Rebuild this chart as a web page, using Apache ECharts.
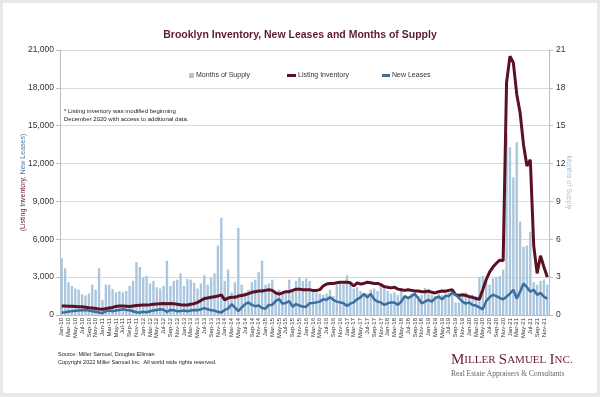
<!DOCTYPE html>
<html>
<head>
<meta charset="utf-8">
<script src="https://cdn.jsdelivr.net/npm/echarts@6/dist/echarts.min.js"></script>
<style>
  html, body { margin: 0; padding: 0; background: #e9e9e9; }
  #chart { position: absolute; left: 3px; top: 3px; width: 594px; height: 390px; background: #fff; }
</style>
</head>
<body>
<div id="chart"></div>
<script>
// month labels Jan-10 ... Dec-21
const years = ['10', '11', '12', '13', '14', '15', '16', '17', '18', '19', '20', '21']
const monthNames = ['Jan', 'Feb', 'Mar', 'Apr', 'May', 'Jun', 'Jul', 'Aug', 'Sep', 'Oct', 'Nov', 'Dec']
const categories = []
years.forEach(y => monthNames.forEach(m => categories.push(m + '-' + y)))

const leftTicks = [0, 3000, 6000, 9000, 12000, 15000, 18000, 21000]
const rightTicks = [0, 3, 6, 9, 12, 15, 18, 21]

// months of supply (right axis)
const monthsOfSupply = [
  4.5, 3.7, 2.6, 2.3, 2.1, 2.0, 1.65, 1.55, 1.7, 2.4, 2.0, 3.7,
  1.2, 2.4, 2.4, 2.05, 1.8, 1.9, 1.8, 1.9, 2.3, 2.7, 4.2, 3.8,
  3.0, 3.1, 2.5, 2.7, 2.2, 2.1, 2.3, 4.3, 2.3, 2.7, 2.8, 3.3,
  2.3, 2.85, 2.8, 2.55, 2.1, 2.5, 3.15, 2.4, 2.95, 3.3, 5.5, 7.7,
  2.7, 3.6, 1.8, 2.6, 6.9, 2.4, 1.8, 2.0, 2.6, 2.8, 3.4, 4.3,
  2.4, 2.5, 2.8, 1.9, 2.0, 1.8, 1.7, 2.8, 2.0, 2.7, 3.0, 2.7,
  2.9, 2.7, 1.9, 1.8, 1.7, 1.6, 1.7, 2.0, 1.5, 2.4, 2.5, 2.5,
  3.15, 2.5, 2.1, 2.2, 1.9, 1.5, 1.7, 2.0, 2.1, 1.9, 2.5, 2.3,
  1.9, 1.7, 1.8, 1.6, 1.9, 1.4, 1.5, 1.7, 1.8, 1.5, 1.6, 2.15,
  1.8, 1.6, 1.5, 1.7, 1.6, 1.7, 1.8, 1.9, 1.0, 1.0, 1.5, 1.8,
  1.6, 1.6, 1.5, 3.0, 3.1, 2.6, 2.4, 2.9, 3.0, 3.1, 3.6, 14.3,
  13.3, 10.9, 13.7, 7.4, 5.4, 5.5, 6.6, 2.6, 2.4, 2.7, 2.8, 2.4
]

const listingInventory = [
  720, 720, 700, 700, 680, 660, 650, 620, 580, 560, 520, 480,
  450, 500, 550, 600, 680, 720, 720, 700, 680, 720, 750, 780,
  800, 800, 820, 850, 880, 900, 920, 900, 920, 900, 850, 820,
  800, 800, 850, 900, 1000, 1150, 1300, 1350, 1400, 1450, 1500, 1600,
  1200, 1350, 1400, 1400, 1500, 1550, 1600, 1700, 1800, 1850, 1900, 1900,
  1950, 2000, 1950, 1750, 1650, 1750, 1850, 1850, 1950, 2050, 2050, 2000,
  2000, 2000, 1950, 1950, 2000, 2300, 2450, 2500, 2500, 2550, 2600, 2600,
  2600, 2550, 2300, 2550, 2450, 2500, 2600, 2550, 2500, 2500, 2400, 2250,
  2200, 2150, 2200, 2050, 2000, 1950, 2000, 1950, 1900, 1900, 1850, 1850,
  1900, 1800, 1750, 1850, 1900, 1880, 1950, 2000, 1600, 1550, 1600, 1550,
  1450, 1400, 1300, 1250, 2000, 2800, 3400, 3800, 4100, 4350, 4300, 18400,
  20500, 20000, 17500, 16000, 13500, 11800, 12300, 5500, 3300, 4700, 3800, 3000
]

const newLeases = [
  200, 220, 280, 300, 330, 350, 380, 400, 350, 300, 250, 200,
  150, 300, 350, 300, 350, 400, 450, 400, 380, 300, 220, 200,
  250, 220, 300, 350, 400, 450, 420, 250, 400, 380, 300, 320,
  350, 300, 350, 400, 380, 450, 550, 450, 380, 350, 250, 200,
  400, 500, 850, 600, 300, 600, 850, 1000, 800, 700, 750, 550,
  500, 800, 800, 1100, 1270, 900, 950, 1100, 660, 870, 750, 660,
  660, 930, 950, 1000, 1060, 1250, 1200, 1400, 1200, 1060, 1000, 930,
  720, 900, 1000, 1250, 1400, 1670, 1400, 1670, 1250, 1060, 1000, 800,
  930, 1000, 1000, 800, 1060, 1500, 1330, 1500, 1670, 1330, 930, 1060,
  1200, 1060, 1330, 1460, 1250, 1500, 1500, 1750, 1600, 1330, 1060, 900,
  1000, 800, 750, 600, 450, 1100, 1400, 1600, 1500, 1350, 1250, 1450,
  1700, 2000, 1300, 1850, 2500, 2200, 1850, 2000, 1600, 1750, 1450, 1300
]

const chart = echarts.init(document.getElementById('chart'))
const font = 'Liberation Sans, Arial, sans-serif'
const serif = 'Liberation Serif, Times New Roman, serif'

chart.setOption({
  animation: false,
  textStyle: { fontFamily: font },
  title: {
    text: 'Brooklyn Inventory, New Leases and Months of Supply',
    left: 'center',
    top: 22,
    textStyle: { fontSize: 10.5, fontWeight: 'bold', color: '#5e1a2e', fontFamily: font }
  },
  legend: [
    {
      data: [{ name: 'Months of Supply', icon: 'rect' }],
      left: 181, top: 64, itemWidth: 5, itemHeight: 5,
      textStyle: { fontSize: 7, color: '#333', padding: [0, 0, 0, -3] }
    },
    {
      data: [{ name: 'Listing Inventory', icon: 'rect' }],
      left: 279, top: 64, itemWidth: 9, itemHeight: 3,
      textStyle: { fontSize: 7, color: '#333', padding: [0, 0, 0, -3] }
    },
    {
      data: [{ name: 'New Leases', icon: 'rect' }],
      left: 374, top: 64, itemWidth: 8, itemHeight: 3,
      textStyle: { fontSize: 7, color: '#333', padding: [0, 0, 0, -3] }
    }
  ],
  grid: { left: 57, right: 48, top: 47, bottom: 78 },
  xAxis: {
    type: 'category',
    data: categories,
    boundaryGap: true,
    axisLine: { lineStyle: { color: '#bdbdbd' } },
    axisTick: { show: false },
    axisLabel: { interval: 1, rotate: 90, fontSize: 6, color: '#333', margin: 3 }
  },
  yAxis: [
    {
      type: 'value',
      min: leftTicks[0],
      max: leftTicks[leftTicks.length - 1],
      interval: 3000,
      name: '{a|(Listing Inventory, }{b|New Leases)}',
      nameLocation: 'middle',
      nameGap: 33,
      nameMoveOverlap: false,
      nameTextStyle: {
        rich: {
          a: { fontSize: 7, color: '#6b1a2c', fontFamily: font },
          b: { fontSize: 7, color: '#4a78a8', fontFamily: font }
        }
      },
      axisLine: { show: true, lineStyle: { color: '#bdbdbd' } },
      axisTick: { show: true, length: 4, lineStyle: { color: '#bdbdbd' } },
      axisLabel: {
        fontSize: 8.5, color: '#333', margin: 6,
        formatter: v => v.toLocaleString('en-US')
      },
      splitLine: { lineStyle: { color: '#d9d9d9' } }
    },
    {
      type: 'value',
      min: rightTicks[0],
      max: rightTicks[rightTicks.length - 1],
      interval: 3,
      name: 'Months of Supply',
      nameLocation: 'middle',
      nameRotate: -90,
      nameGap: 16,
      nameMoveOverlap: false,
      nameTextStyle: { fontSize: 7, color: '#a9c4dc' },
      axisLine: { show: true, lineStyle: { color: '#bdbdbd' } },
      axisTick: { show: true, length: 4, lineStyle: { color: '#bdbdbd' } },
      axisLabel: { fontSize: 8.5, color: '#333', margin: 7 },
      splitLine: { show: false }
    }
  ],
  series: [
    {
      name: 'Months of Supply',
      type: 'bar',
      yAxisIndex: 1,
      data: monthsOfSupply,
      barCategoryGap: '30%',
      itemStyle: { color: '#aac6de' }
    },
    {
      name: 'Listing Inventory',
      type: 'line',
      data: listingInventory,
      symbol: 'none',
      lineStyle: { color: '#5c1024', width: 3 },
      itemStyle: { color: '#5c1024' }
    },
    {
      name: 'New Leases',
      type: 'line',
      data: newLeases,
      symbol: 'none',
      lineStyle: { color: '#3e6e9e', width: 2.5 },
      itemStyle: { color: '#3e6e9e' }
    }
  ],
  graphic: [
    {
      type: 'text', left: 61, top: 104,
      style: {
        text: '* Listing inventory was modified beginning\nDecember 2020 with access to additional data.',
        fontSize: 6, lineHeight: 8, fill: '#222', fontFamily: font
      }
    },
    {
      type: 'text', left: 55, top: 347,
      style: {
        text: 'Source: Miller Samuel, Douglas Elliman\nCopyright 2022 Miller Samuel Inc.  All world wide rights reserved.',
        fontSize: 5.5, lineHeight: 8, fill: '#222', fontFamily: font
      }
    },
    {
      type: 'text', left: 448, top: 350,
      style: {
        text: '{b|M}{s|ILLER} {b|S}{s|AMUEL} {b|I}{s|NC.}',
        rich: {
          b: { fontSize: 15, fill: '#6b1a2c', fontFamily: serif },
          s: { fontSize: 11, fill: '#6b1a2c', fontFamily: serif }
        }
      }
    },
    {
      type: 'text', left: 448, top: 367,
      style: {
        text: 'Real Estate Appraisers & Consultants',
        fontSize: 7.5, fill: '#666', fontFamily: serif
      }
    }
  ]
})
</script>
</body>
</html>
